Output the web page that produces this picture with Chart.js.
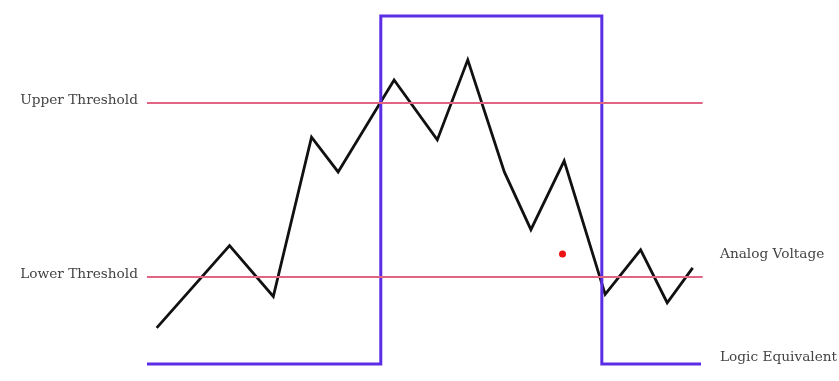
<!DOCTYPE html>
<html>
<head>
<meta charset="utf-8">
<script src="https://cdn.jsdelivr.net/npm/chart.js@4"></script>
<style>
  html, body { margin: 0; padding: 0; background: #fff; }
  #wrap { width: 839px; height: 381px; }
</style>
</head>
<body>
<div id="wrap"><canvas id="grafico"></canvas></div>
<script>
// tiempo (0-100) y voltaje (0-5 V)
const analogTime = [1.75, 14.9, 22.8, 29.7, 34.5, 44.6, 52.4, 57.9, 64.5, 69.3, 75.3, 82.7, 89.1, 93.9, 98.5];
const analogVolt = [0.52, 1.70, 0.97, 3.26, 2.76, 4.08, 3.22, 4.37, 2.76, 1.93, 2.92, 1.00, 1.64, 0.88, 1.38];

const logicTime = [0, 42.2, 42.2, 82.1, 82.1, 100];
const logicVolt = [0, 0, 5, 5, 0, 0];

const upperThreshold = 3.75;
const lowerThreshold = 1.25;

const dotTime = [75.0];
const dotVolt = [1.58];

const leftLabels = ["Upper Threshold", "Lower Threshold"];
const rightLabels = ["Analog Voltage", "Logic Equivalent"];
const rightLabelVolt = [1.57, 0.09];

function puntos(xs, ys) {
    return xs.map((x, i) => ({ x: x, y: ys[i] }));
}

// etiquetas de texto a los lados
const etiquetas = {
    id: "etiquetas",
    afterDraw(chart) {
        const ctx = chart.ctx;
        const xs = chart.scales.x;
        const ys = chart.scales.y;
        ctx.save();
        ctx.font = "13.7px 'DejaVu Serif'";
        ctx.fillStyle = "#444444";
        ctx.textBaseline = "middle";
        ctx.textAlign = "right";
        ctx.fillText(leftLabels[0], xs.left - 9, ys.getPixelForValue(upperThreshold) - 3);
        ctx.fillText(leftLabels[1], xs.left - 9, ys.getPixelForValue(lowerThreshold) - 3);
        ctx.textAlign = "left";
        rightLabels.forEach((t, i) => {
            ctx.fillText(t, xs.right + 19, ys.getPixelForValue(rightLabelVolt[i]));
        });
        ctx.restore();
    }
};

const config = {
    type: "line",
    data: {
        datasets: [
            {
                label: "Upper Threshold",
                data: puntos([0, 100.3], [upperThreshold, upperThreshold]),
                borderColor: "#e06585",
                borderWidth: 2,
                pointRadius: 0,
                clip: false
            },
            {
                label: "Lower Threshold",
                data: puntos([0, 100.3], [lowerThreshold, lowerThreshold]),
                borderColor: "#e06585",
                borderWidth: 2,
                pointRadius: 0,
                clip: false
            },
            {
                label: "Logic Equivalent",
                data: puntos(logicTime, logicVolt),
                borderColor: "#5b2ee6",
                borderWidth: 3,
                pointRadius: 0,
                borderJoinStyle: "miter",
                clip: false
            },
            {
                label: "Analog Voltage",
                data: puntos(analogTime, analogVolt),
                borderColor: "#111111",
                borderWidth: 2.8,
                pointRadius: 0,
                borderJoinStyle: "miter",
                clip: false
            },
            {
                label: "punto",
                data: puntos(dotTime, dotVolt),
                showLine: false,
                pointRadius: 3.5,
                pointBackgroundColor: "#ee1111",
                pointBorderWidth: 0,
                clip: false
            }
        ]
    },
    options: {
        responsive: true,
        maintainAspectRatio: false,
        animation: false,
        layout: { padding: { left: 147, right: 138, top: 16, bottom: 17 } },
        plugins: {
            legend: { display: false },
            tooltip: { enabled: false }
        },
        scales: {
            x: { type: "linear", min: 0, max: 100, display: false },
            y: { type: "linear", min: 0, max: 5, display: false }
        }
    },
    plugins: [etiquetas]
};

new Chart(document.getElementById("grafico").getContext("2d"), config);
</script>
</body>
</html>
